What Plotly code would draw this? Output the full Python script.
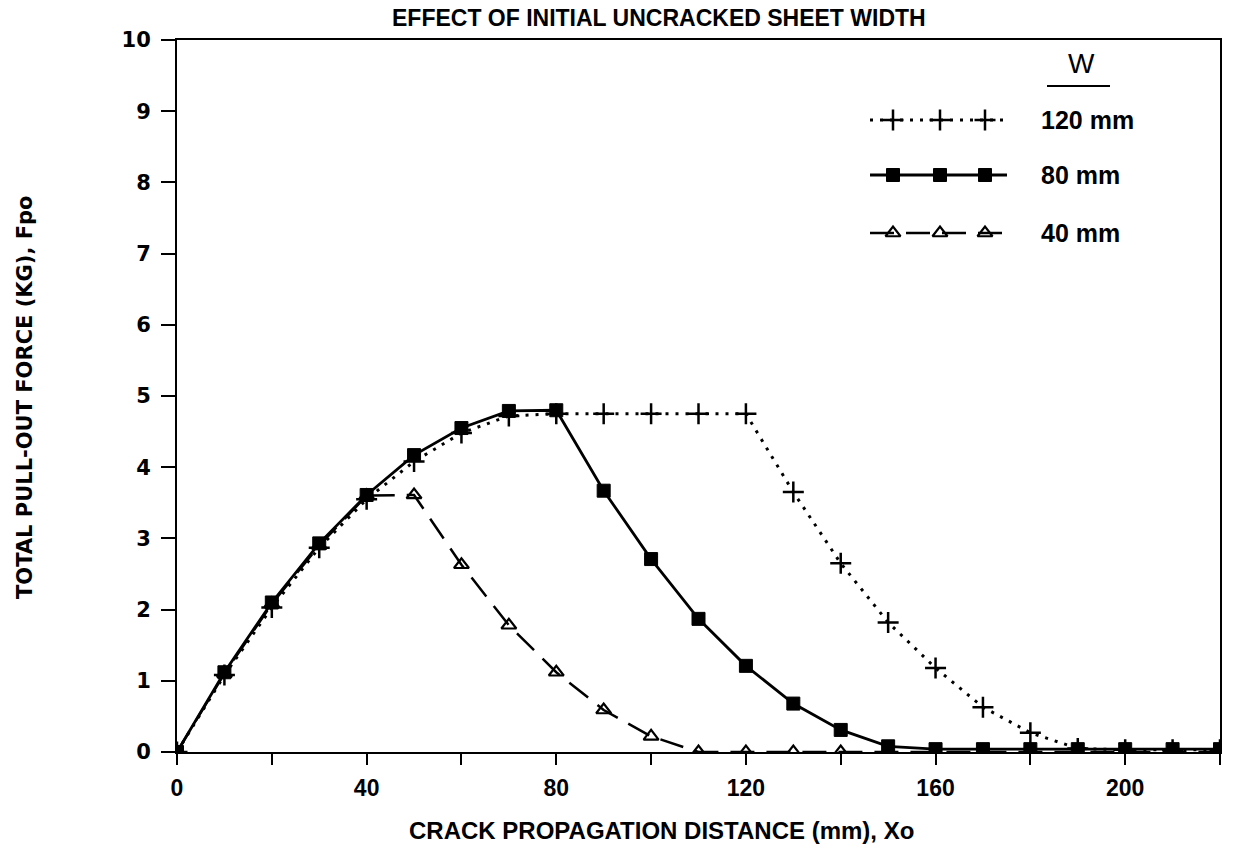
import plotly.graph_objects as go

# Crack propagation distance Xo (mm)
X_MM = [0, 10, 20, 30, 40, 50, 60, 70, 80, 90, 100, 110, 120, 130, 140, 150,
        160, 170, 180, 190, 200, 210, 220]

# Total pull-out force Fpo (kg) for each initial uncracked sheet width W
F_W120 = [0, 1.08, 2.03, 2.87, 3.55, 4.08, 4.48, 4.72, 4.75, 4.75, 4.75, 4.75,
          4.75, 3.65, 2.65, 1.82, 1.18, 0.63, 0.27, 0.05, 0.03, 0.03, 0.03]
F_W80 = [0, 1.12, 2.1, 2.93, 3.61, 4.17, 4.55, 4.79, 4.8, 3.67, 2.71, 1.87,
         1.21, 0.68, 0.31, 0.08, 0.04, 0.04, 0.04, 0.04, 0.04, 0.04, 0.04]
F_W40 = [0, 1.1, 2.08, 2.9, 3.6, 3.61, 2.63, 1.78, 1.12, 0.59, 0.22, 0.0,
         0.0, 0.0, 0.0, 0.0, 0.0, 0.0, 0.0, 0.0, 0.0, 0.0, 0.0]

SERIES_NAMES = ["120 mm", "80 mm", "40 mm"]
X_TICKS = [0, 20, 40, 60, 80, 100, 120, 140, 160, 180, 200, 220]
X_TICK_TEXT = ["0", "", "40", "", "80", "", "120", "", "160", "", "200", ""]
Y_TICKS = list(range(0, 11))

W, H = 1235, 849
M_L, M_R, M_T, M_B = 177, 15, 40, 97
PW, PH = W - M_L - M_R, H - M_T - M_B

WIDE = "DejaVu Sans"
PLAIN = "Liberation Sans, Arial, sans-serif"

styles = [
    dict(line=dict(color="black", width=3, dash="3px,7px"),
         marker=dict(symbol="cross-thin-open", size=15, color="black",
                     opacity=1, line=dict(width=2.5, color="black"))),
    dict(line=dict(color="black", width=2.8),
         marker=dict(symbol="square", size=13, color="black", opacity=1,
                     line=dict(width=1, color="black"))),
    dict(line=dict(color="black", width=2.5, dash="24px,12px"),
         marker=dict(symbol="triangle-up-open", size=13, color="black",
                     opacity=1, line=dict(width=2.2, color="black"))),
]

fig = go.Figure()

# data curves, drawn so the solid 80 mm curve sits on top
for idx in [2, 0, 1]:
    ys = [F_W120, F_W80, F_W40][idx]
    fig.add_trace(go.Scatter(x=X_MM, y=ys, mode="lines+markers",
                             name=SERIES_NAMES[idx], showlegend=False,
                             **styles[idx]))


def px_x(p):
    return (p - M_L) / PW


def px_y(p):
    return (H - M_B - p) / PH


# hand-built key: short sample line with three symbols per entry
key_rows_px = [120, 175, 233]
key_line_px = [870, 1007]
key_marks_px = [893, 940, 985]
for idx, row in enumerate(key_rows_px):
    fig.add_trace(go.Scatter(
        x=[px_x(p) for p in key_line_px], y=[px_y(row)] * 2,
        xaxis="x2", yaxis="y2", mode="lines", showlegend=False,
        hoverinfo="skip", line=styles[idx]["line"]))
    fig.add_trace(go.Scatter(
        x=[px_x(p) for p in key_marks_px], y=[px_y(row)] * 3,
        xaxis="x2", yaxis="y2", mode="markers", showlegend=False,
        hoverinfo="skip", marker=styles[idx]["marker"]))

annotations = []
for idx, row in enumerate(key_rows_px):
    annotations.append(dict(x=px_x(1039), y=px_y(row), xref="paper", yref="paper",
                            text="<b>" + SERIES_NAMES[idx] + "</b>",
                            showarrow=False, xanchor="left", yanchor="middle",
                            font=dict(family=PLAIN, size=25, color="black")))
annotations.append(dict(x=px_x(1081), y=px_y(63), xref="paper", yref="paper",
                        text="W", showarrow=False, xanchor="center",
                        yanchor="middle",
                        font=dict(family=PLAIN, size=28, color="black")))
annotations.append(dict(x=px_x(659), y=px_y(18), xref="paper", yref="paper",
                        text="<b>EFFECT OF INITIAL UNCRACKED SHEET WIDTH</b>",
                        showarrow=False, xanchor="center", yanchor="middle",
                        font=dict(family=PLAIN, size=23, color="black")))
annotations.append(dict(x=px_x(661), y=px_y(831), xref="paper", yref="paper",
                        text="<b>CRACK PROPAGATION DISTANCE (mm), Xo</b>",
                        showarrow=False, xanchor="center", yanchor="middle",
                        font=dict(family=PLAIN, size=24, color="black")))
annotations.append(dict(x=px_x(25), y=px_y(397), xref="paper", yref="paper",
                        text="<b>TOTAL PULL-OUT FORCE (KG), Fpo</b>",
                        showarrow=False, textangle=-90, xanchor="center",
                        yanchor="middle",
                        font=dict(family=WIDE, size=21, color="black")))

shapes = [dict(type="line", xref="paper", yref="paper",
               x0=px_x(1047), x1=px_x(1110), y0=px_y(86), y1=px_y(86),
               line=dict(color="black", width=2))]

fig.update_layout(
    width=W, height=H,
    margin=dict(l=M_L, r=M_R, t=M_T, b=M_B),
    paper_bgcolor="white", plot_bgcolor="white",
    showlegend=False,
    annotations=annotations, shapes=shapes,
    xaxis=dict(range=[0, 220], tickvals=X_TICKS, ticktext=X_TICK_TEXT,
               ticks="outside", ticklen=11, tickwidth=2, tickcolor="black",
               showline=True, linewidth=2, linecolor="black", mirror=True,
               showgrid=False, zeroline=False, ticklabelstandoff=3,
               tickfont=dict(family=PLAIN, size=23, color="black", weight="bold")),
    yaxis=dict(range=[0, 10], tickvals=Y_TICKS,
               ticks="outside", ticklen=14, tickwidth=2, tickcolor="black",
               showline=True, linewidth=2, linecolor="black", mirror=True,
               showgrid=False, zeroline=False, ticklabelstandoff=6,
               tickfont=dict(family=WIDE, size=21, color="black", weight="bold")),
    xaxis2=dict(range=[0, 1], domain=[0, 1], visible=False, anchor="y2",
                overlaying="x"),
    yaxis2=dict(range=[0, 1], domain=[0, 1], visible=False, anchor="x2",
                overlaying="y"),
)

fig.write_html("out.html")
